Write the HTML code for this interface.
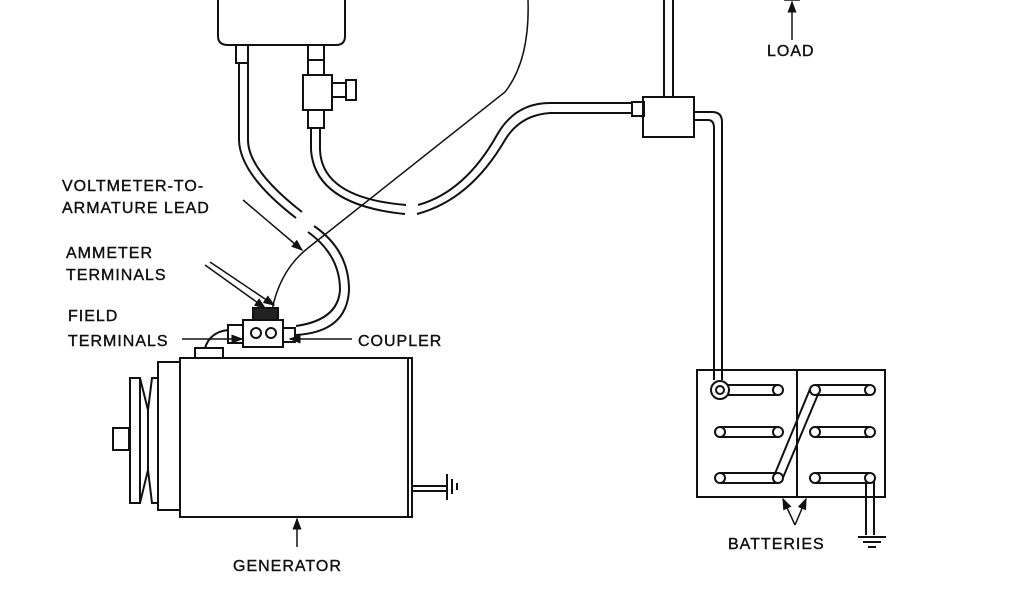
<!DOCTYPE html>
<html><head><style>
html,body{margin:0;padding:0;background:#fff;}
svg{display:block}
text{font-family:"Liberation Sans",sans-serif;font-size:16px;fill:#111;letter-spacing:1px;stroke:#111;stroke-width:0.4}
</style></head><body>
<svg width="1024" height="600" viewBox="0 0 1024 600" xmlns="http://www.w3.org/2000/svg">
<defs>
<marker id="ah" markerWidth="8" markerHeight="8" refX="7" refY="4" orient="auto"><path d="M0,1 L8,4 L0,7 z" fill="#111"/></marker>
</defs>
<g fill="none" stroke="#111" stroke-width="2">
<path d="M218,-2 V36 Q218,45 228,45 H336 Q345,45 345,36 V-2"/>
<rect x="236" y="45" width="12" height="18"/>
<rect x="308" y="45" width="16" height="15"/>
<rect x="303" y="75" width="29" height="35"/>
<line x1="308" y1="60" x2="308" y2="75"/><line x1="324" y1="60" x2="324" y2="75"/>
<rect x="332" y="83" width="14" height="14"/>
<rect x="346" y="80" width="10" height="20"/>
<rect x="308" y="110" width="16" height="18"/>
<path d="M239,63 V140 Q240,175 296,218"/>
<path d="M248,63 V140 Q248,170 302,212"/>
<path d="M311,128 V150 Q315,205 405,214"/>
<path d="M320,128 V150 Q322,198 406,205"/>
<path d="M417,214 Q470,200 505,140 Q520,115 550,113 H632"/>
<path d="M418,205 Q465,192 497,135 Q515,103 550,103 H632"/>
<rect x="632" y="102" width="12" height="14"/>
<rect x="643" y="97" width="51" height="40"/>
<path d="M694,112 H712 Q722,112 722,122 V380"/>
<path d="M694,120 H708 Q714,120 714,128 V380"/>
<line x1="664" y1="0" x2="664" y2="97"/><line x1="673" y1="0" x2="673" y2="97"/>
<path d="M528,0 Q530,60 505,92 L308,248 Q280,270 272,310" stroke-width="1.5"/>
<path d="M308,232 Q340,255 340,290 Q338,320 296,326"/>
<path d="M314,226 Q349,250 349,290 Q347,332 296,335"/>
<rect x="253" y="308" width="25" height="12" fill="#222"/>
<rect x="243" y="320" width="40" height="27"/>
<circle cx="256" cy="333" r="5"/><circle cx="271" cy="333" r="5"/>
<rect x="228" y="325" width="15" height="18"/>
<rect x="283" y="328" width="12" height="14"/>
<path d="M228,330 Q210,332 205,348"/>
<rect x="195" y="348" width="28" height="10"/>
<rect x="180" y="358" width="232" height="159"/>
<line x1="408" y1="358" x2="408" y2="517"/>
<rect x="158" y="362" width="22" height="148"/>
<path d="M130,378 H140 V503 H130 Z"/>
<path d="M140,378 L148,410 V470 L140,503"/>
<path d="M158,378 H152 L148,410 M148,470 L152,503 H158"/>
<rect x="113" y="428" width="16" height="22"/>
<line x1="412" y1="486" x2="447" y2="486"/><line x1="412" y1="491" x2="447" y2="491"/>
<line x1="447" y1="474" x2="447" y2="500"/><line x1="452" y1="479" x2="452" y2="494"/><line x1="457" y1="483" x2="457" y2="490"/>
<rect x="697" y="370" width="188" height="127"/>
<line x1="797" y1="370" x2="797" y2="497"/>
<circle cx="720" cy="390" r="9"/><circle cx="720" cy="390" r="4"/>
<path d="M728,385 H778 M728,395 H778"/><circle cx="778" cy="390" r="5" fill="#fff"/>
<path d="M720,427 H778 M720,437 H778"/><circle cx="720" cy="432" r="5" fill="#fff"/><circle cx="778" cy="432" r="5" fill="#fff"/>
<path d="M720,473 H778 M720,483 H778"/><circle cx="720" cy="478" r="5" fill="#fff"/>
<path d="M815,385 H870 M815,395 H870"/><circle cx="870" cy="390" r="5" fill="#fff"/>
<path d="M815,427 H870 M815,437 H870"/><circle cx="815" cy="432" r="5" fill="#fff"/><circle cx="870" cy="432" r="5" fill="#fff"/>
<path d="M815,473 H870 M815,483 H870"/><circle cx="815" cy="478" r="5" fill="#fff"/>
<path d="M774,476 L810,389 M782,480 L819,392" />
<circle cx="778" cy="478" r="5" fill="#fff"/><circle cx="815" cy="390" r="5" fill="#fff"/>
<path d="M866,478 V535 M874,478 V535"/><circle cx="870" cy="478" r="5" fill="#fff"/>
<line x1="858" y1="537" x2="886" y2="537"/><line x1="863" y1="542" x2="881" y2="542"/><line x1="868" y1="547" x2="876" y2="547"/>
</g>
<g stroke="#111" stroke-width="1.5" fill="none">
<line x1="792" y1="40" x2="792" y2="2" marker-end="url(#ah)"/>
<line x1="784" y1="0" x2="800" y2="0"/>
<line x1="243" y1="200" x2="302" y2="250" marker-end="url(#ah)"/>
<line x1="205" y1="265" x2="265" y2="308" marker-end="url(#ah)"/>
<line x1="210" y1="262" x2="274" y2="305" marker-end="url(#ah)"/>
<line x1="182" y1="339" x2="242" y2="339" marker-end="url(#ah)"/>
<line x1="352" y1="339" x2="290" y2="339" marker-end="url(#ah)"/>
<line x1="297" y1="547" x2="297" y2="519" marker-end="url(#ah)"/>
<line x1="795" y1="525" x2="783" y2="499" marker-end="url(#ah)"/>
<line x1="795" y1="525" x2="806" y2="499" marker-end="url(#ah)"/>
</g>
<text x="767" y="56">LOAD</text>
<text x="62" y="191">VOLTMETER-TO-</text>
<text x="62" y="213">ARMATURE LEAD</text>
<text x="66" y="258">AMMETER</text>
<text x="66" y="280">TERMINALS</text>
<text x="68" y="321">FIELD</text>
<text x="68" y="346">TERMINALS</text>
<text x="358" y="346">COUPLER</text>
<text x="233" y="571">GENERATOR</text>
<text x="728" y="549">BATTERIES</text>
</svg>
</body></html>
